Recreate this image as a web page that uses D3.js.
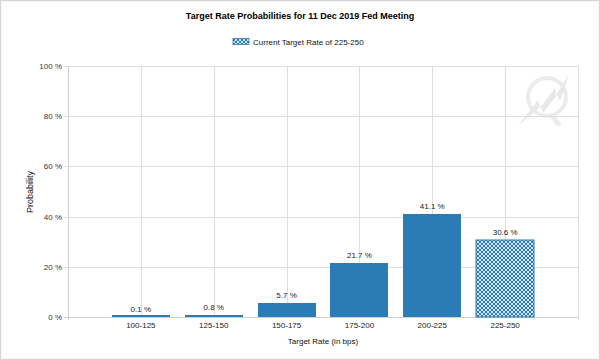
<!DOCTYPE html>
<html><head><meta charset="utf-8">
<script src="https://cdn.jsdelivr.net/npm/d3@7"></script>
<style>body{margin:0;background:#fff}svg{display:block;font-family:"Liberation Sans",Arial,sans-serif}</style>
</head><body>
<script>
const categories = ["100-125","125-150","150-175","175-200","200-225","225-250"];
const values = [0.1, 0.8, 5.7, 21.7, 41.1, 30.6];
const yTicks = [0, 20, 40, 60, 80, 100];
const currentRate = "225-250";
const titleText = "Target Rate Probabilities for 11 Dec 2019 Fed Meeting";
const legendText = "Current Target Rate of 225-250";
const yTitle = "Probability";
const xTitle = "Target Rate (in bps)";

const W = 600, H = 360;
const m = {left: 68, right: 22, top: 66, bottom: 43};
const svg = d3.select("body").append("svg").attr("width", W).attr("height", H);

const defs = svg.append("defs");
const pat = defs.append("pattern").attr("id","hatch").attr("patternUnits","userSpaceOnUse")
  .attr("width",4).attr("height",4);
pat.append("rect").attr("width",4).attr("height",4).attr("fill","#2b7bb7");
pat.append("path").attr("d","M0,0L4,4M4,0L0,4").attr("stroke","#fff").attr("stroke-width",0.8).attr("fill","none");

// outer border
svg.append("rect").attr("x",0.5).attr("y",0.5).attr("width",W-1).attr("height",H-1)
  .attr("fill","none").attr("stroke","#d6d6d6").attr("stroke-width",1.5);

const x = d3.scaleLinear().domain([0, categories.length + 1]).range([m.left, W - m.right]);
const y = d3.scaleLinear().domain([0, 100]).range([H - m.bottom, m.top]);
const step = x(1) - x(0);
const bw = Math.round(step * 0.8);

// watermark
const wm = svg.append("g").attr("opacity",0.55);
wm.append("circle").attr("cx",547).attr("cy",97).attr("r",19).attr("fill","none").attr("stroke","#dcdcdc").attr("stroke-width",4);
wm.append("path").attr("d","M553,113L562,125L557,126L549,116Z").attr("fill","#dcdcdc");
wm.append("path").attr("d","M518,126L538,100L540,108L555,88L556,95L569,74L560,101L557,95L543,113L541,106Z").attr("fill","#d6d6d6");

// horizontal gridlines
svg.append("g").selectAll("line").data(yTicks).join("line")
  .attr("x1", m.left - 4).attr("x2", W - m.right)
  .attr("y1", d => Math.round(y(d)) + 0.5).attr("y2", d => Math.round(y(d)) + 0.5)
  .attr("stroke", "#dedede");
// vertical gridlines at category centres and right edge
const vx = categories.map((c,i) => i + 1).concat([categories.length + 1]);
svg.append("g").selectAll("line").data(vx).join("line")
  .attr("x1", d => Math.round(x(d)) + 0.5).attr("x2", d => Math.round(x(d)) + 0.5)
  .attr("y1", m.top).attr("y2", d => d === categories.length + 1 ? H - m.bottom + 3 : H - m.bottom)
  .attr("stroke", "#dedede");
// y axis line
svg.append("line").attr("x1", m.left + 0.5).attr("x2", m.left + 0.5)
  .attr("y1", m.top).attr("y2", H - m.bottom + 3).attr("stroke", "#cfcfcf");

// y tick labels
svg.append("g").selectAll("text").data(yTicks).join("text")
  .attr("x", m.left - 6).attr("y", d => y(d) + 3)
  .attr("text-anchor","end").attr("font-size","8px").attr("fill","#333")
  .text(d => d + " %");

// x axis line
const y0 = Math.round(y(0));
svg.append("line").attr("x1", m.left - 4).attr("x2", W - m.right)
  .attr("y1", y0 + 0.5).attr("y2", y0 + 0.5).attr("stroke", "#cfcfcf");

// bars
svg.append("g").selectAll("rect").data(values).join("rect")
  .attr("x", (d,i) => Math.round(x(i+1) - bw/2)).attr("width", bw)
  .attr("y", d => Math.min(Math.round(y(d)), y0 - 2))
  .attr("height", d => y0 - Math.min(Math.round(y(d)), y0 - 2))
  .attr("fill", (d,i) => categories[i] === currentRate ? "url(#hatch)" : "#2b7bb7")
  .attr("stroke", (d,i) => categories[i] === currentRate ? "#2b7bb7" : "none");

// value labels
svg.append("g").selectAll("text").data(values).join("text")
  .attr("x", (d,i) => x(i+1)).attr("y", d => y(d) - 5)
  .attr("text-anchor","middle").attr("font-size","8px").attr("fill","#222")
  .text(d => d.toFixed(1) + " %");

// category labels
svg.append("g").selectAll("text").data(categories).join("text")
  .attr("x", (d,i) => x(i+1)).attr("y", H - m.bottom + 11)
  .attr("text-anchor","middle").attr("font-size","8px").attr("fill","#222")
  .text(d => d);

// axis titles
svg.append("text").attr("x", (m.left + W - m.right)/2).attr("y", 344)
  .attr("text-anchor","middle").attr("font-size","8px").attr("fill","#111").text(xTitle);
svg.append("text").attr("transform","translate(33,192) rotate(-90)")
  .attr("text-anchor","middle").attr("font-size","9px").attr("fill","#111").text(yTitle);

// title
svg.append("text").attr("x", 300).attr("y", 19).attr("text-anchor","middle")
  .attr("font-size","9px").attr("font-weight","bold").attr("fill","#000").text(titleText);

// legend
const lg = svg.append("g");
lg.append("rect").attr("x",233).attr("y",38.5).attr("width",16).attr("height",6)
  .attr("fill","url(#hatch)").attr("stroke","#2b7bb7").attr("stroke-width",0.8);
lg.append("text").attr("x",253).attr("y",45).attr("font-size","8px").attr("fill","#111").text(legendText);
</script>
</body></html>
